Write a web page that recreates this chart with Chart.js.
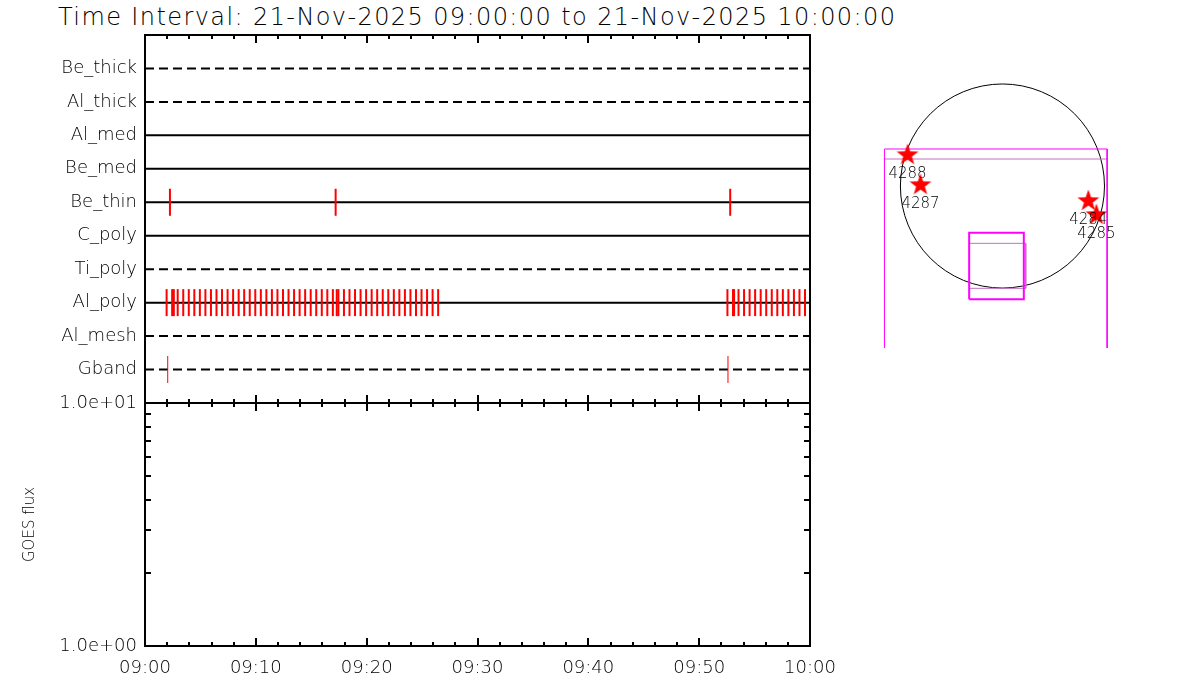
<!DOCTYPE html>
<html lang="en">
<head>
<meta charset="UTF-8">
<title>Time Interval: 21-Nov-2025 09:00:00 to 21-Nov-2025 10:00:00</title>
<style>
body {margin:0; background:#fff; width:1200px; height:700px; position:relative; overflow:hidden; font-family:'DejaVu Sans', sans-serif; color:#000;}
#title {position:absolute; left:58px; top:3px; font-size:24px; font-weight:200; letter-spacing:1.4px; white-space:nowrap;}
canvas {position:absolute;}
#cTop {left:0; top:0;}
#cBottom {left:0; top:380px;}
#cDisk {left:860px; top:60px;}
</style>
</head>
<body>
<div id="title">Time Interval: 21-Nov-2025 09:00:00 to 21-Nov-2025 10:00:00</div>
<canvas id="cTop" width="840" height="420"></canvas>
<canvas id="cBottom" width="840" height="320"></canvas>
<canvas id="cDisk" width="270" height="310"></canvas>
<script src="https://cdn.jsdelivr.net/npm/chart.js"></script>
<script>
// time axis, minutes after 09:00
const T0 = 0, T1 = 60;
const timeLabelMins = [0, 10, 20, 30, 40, 50, 60];
const timeLabels = ['09:00', '09:10', '09:20', '09:30', '09:40', '09:50', '10:00'];

// filter channels, bottom row first
const channels = ['Gband', 'Al_mesh', 'Al_poly', 'Ti_poly', 'C_poly', 'Be_thin', 'Be_med', 'Al_med', 'Al_thick', 'Be_thick'];
const channelDashed = [true, true, false, true, false, false, false, false, true, true];

// exposure times per channel (minutes after 09:00)
const beThinMins = [2.25, 17.2, 52.8];
const gbandMins = [2.05, 52.6];
const alPolyMins = [1.95, 2.45, 2.6, 2.95, 3.45, 3.95, 4.45, 4.95, 5.45, 5.95, 6.45, 6.95, 7.45, 7.95,
  8.45, 8.95, 9.45, 9.95, 10.45, 10.95, 11.45, 11.95, 12.45, 12.95, 13.45, 13.95, 14.45, 14.95,
  15.45, 15.95, 16.45, 16.95, 17.3, 17.45, 17.95, 18.45, 18.95, 19.45, 19.95, 20.45, 20.95, 21.45,
  21.95, 22.45, 22.95, 23.45, 23.95, 24.45, 24.95, 25.45, 25.95, 26.45,
  52.55, 53.05, 53.15, 53.55, 54.05, 54.55, 55.05, 55.55, 56.05, 56.55, 57.05, 57.55, 58.05, 58.55, 59.05, 59.55];

// GOES panel (empty)
const fluxMin = 1, fluxMax = 10;
const fluxLabelVals = [1, 10];
const fluxLabels = ['1.0e+00', '1.0e+01'];
const fluxMinorVals = [2, 3, 4, 5, 6, 7, 8, 9];

// solar disk panel, arcsec
const diskRadius = 960;
const arNums = ['4288', '4287', '4284', '4285'];
const arX = [-893, -771, 808, 884];
const arY = [291, 9, -141, -273];
const fovX = [-1110, -1110, 985, 985];
const fovY = [-1523, 348, 348, -1523];
const fovInnerX = [-1110, 985];
const fovInnerY = [254, 254];
const boxAX = [-313, -313, 201, 201, -313];
const boxAY = [-1065, -439, -439, -1065, -1065];
const boxBX = [-310, -310, 219, 219, -310];
const boxBY = [-962, -539, -539, -962, -962];

Chart.defaults.font.family = "'DejaVu Sans', sans-serif";
Chart.defaults.font.weight = '200';
Chart.defaults.color = '#000';

// box around the plot with inward IDL-style ticks
function frameTicks(yMinor) {
  return {
    id: 'frameTicks',
    afterDraw(chart) {
      const {ctx, chartArea: a, scales} = chart;
      ctx.save();
      ctx.strokeStyle = '#000';
      ctx.lineWidth = 2;
      ctx.strokeRect(a.left, a.top, a.right - a.left, a.bottom - a.top);
      ctx.beginPath();
      for (let m = T0; m <= T1; m += 2) {
        const px = Math.round(scales.x.getPixelForValue(m));
        const len = m % 10 === 0 ? 8 : 4;
        ctx.moveTo(px, a.top); ctx.lineTo(px, a.top + len);
        ctx.moveTo(px, a.bottom); ctx.lineTo(px, a.bottom - len);
      }
      if (yMinor) {
        yMinor.forEach(v => {
          const py = Math.round(scales.y.getPixelForValue(v));
          ctx.moveTo(a.left, py); ctx.lineTo(a.left + 6, py);
          ctx.moveTo(a.right, py); ctx.lineTo(a.right - 6, py);
        });
      }
      ctx.stroke();
      ctx.restore();
    }
  };
}

function noPad(s) {
  s.paddingLeft = 0; s.paddingRight = 0; s.paddingTop = 0; s.paddingBottom = 0;
}

function tickSet(name, mins, width) {
  const row = channels.indexOf(name) + 1;
  return {
    label: name,
    data: mins.map(m => ({x: m, y: row})),
    showLine: false,
    pointStyle: 'line',
    pointRotation: 90,
    pointRadius: 13.5,
    pointBorderColor: '#ff0000',
    pointBorderWidth: width,
    borderColor: '#ff0000',
    order: 0
  };
}

const rowSets = channels.map((c, i) => ({
  label: c,
  data: [{x: T0, y: i + 1}, {x: T1, y: i + 1}],
  showLine: true,
  borderColor: '#000',
  borderWidth: 2,
  borderDash: channelDashed[i] ? [9, 5] : [],
  pointRadius: 0,
  order: 1
}));

new Chart(document.getElementById('cTop'), {
  type: 'scatter',
  data: {datasets: [tickSet('Be_thin', beThinMins, 2), tickSet('Al_poly', alPolyMins, 2), tickSet('Gband', gbandMins, 1), ...rowSets]},
  options: {
    responsive: false, animation: false, events: [],
    layout: {autoPadding: false, padding: {left: 0, right: 30, top: 35, bottom: 17}},
    plugins: {legend: {display: false}, tooltip: {enabled: false}},
    scales: {
      x: {type: 'linear', min: T0, max: T1, display: false},
      y: {
        type: 'linear', min: 0, max: channels.length + 1,
        afterFit(s) { s.width = 145; noPad(s); },
        afterBuildTicks(s) { s.ticks = channels.map((c, i) => ({value: i + 1})); },
        ticks: {autoSkip: false, padding: 8, font: {size: 18}, callback: v => channels[v - 1]},
        grid: {display: false, drawTicks: false},
        border: {display: false}
      }
    }
  },
  plugins: [frameTicks(null)]
});

new Chart(document.getElementById('cBottom'), {
  type: 'scatter',
  data: {datasets: [{label: 'GOES', data: []}]},
  options: {
    responsive: false, animation: false, events: [],
    layout: {autoPadding: false, padding: {left: 0, right: 30, top: 23, bottom: 0}},
    plugins: {legend: {display: false}, tooltip: {enabled: false}},
    scales: {
      x: {
        type: 'linear', min: T0, max: T1,
        afterFit(s) { s.height = 54; noPad(s); },
        afterBuildTicks(s) { s.ticks = timeLabelMins.map(v => ({value: v})); },
        ticks: {autoSkip: false, maxRotation: 0, padding: 12, font: {size: 18}, callback: v => timeLabels[timeLabelMins.indexOf(v)]},
        grid: {display: false, drawTicks: false},
        border: {display: false}
      },
      y: {
        type: 'logarithmic', min: fluxMin, max: fluxMax,
        afterFit(s) { s.width = 145; noPad(s); },
        afterBuildTicks(s) { s.ticks = fluxLabelVals.map(v => ({value: v})); },
        ticks: {autoSkip: false, padding: 8, font: {size: 18}, callback: v => fluxLabels[fluxLabelVals.indexOf(v)]},
        grid: {display: false, drawTicks: false},
        border: {display: false},
        title: {display: true, text: 'GOES flux', font: {size: 15}, padding: {top: 21, bottom: 0}}
      }
    }
  },
  plugins: [frameTicks(fluxMinorVals)]
});

// filled red star marker
const starImg = document.createElement('canvas');
starImg.width = 24; starImg.height = 24;
const sc = starImg.getContext('2d');
sc.fillStyle = '#ff0000';
sc.beginPath();
for (let k = 0; k < 10; k++) {
  const r = k % 2 ? 4.6 : 11.5;
  const ang = -Math.PI / 2 + k * Math.PI / 5;
  sc.lineTo(12 + r * Math.cos(ang), 12 + r * Math.sin(ang));
}
sc.closePath();
sc.fill();

const diskPlugin = {
  id: 'disk',
  beforeDatasetsDraw(chart) {
    const {ctx, scales: {x, y}} = chart;
    const cx = x.getPixelForValue(0), cy = y.getPixelForValue(0);
    const r = x.getPixelForValue(diskRadius) - cx;
    ctx.save();
    ctx.strokeStyle = '#000';
    ctx.lineWidth = 1;
    ctx.beginPath();
    ctx.arc(cx, cy, r, 0, Math.PI * 2);
    ctx.stroke();
    ctx.restore();
  },
  afterDatasetsDraw(chart) {
    const {ctx, scales: {x, y}} = chart;
    ctx.save();
    ctx.fillStyle = '#000';
    ctx.font = "200 15px 'DejaVu Sans', sans-serif";
    ctx.textAlign = 'center';
    ctx.textBaseline = 'middle';
    arNums.forEach((n, i) => {
      ctx.fillText(n, x.getPixelForValue(arX[i]), y.getPixelForValue(arY[i]) + 19);
    });
    ctx.restore();
  }
};

function outline(label, xs, ys, color, width) {
  return {label, data: xs.map((v, i) => ({x: v, y: ys[i]})), showLine: true, borderColor: color, borderWidth: width, pointRadius: 0, order: 1};
}

new Chart(document.getElementById('cDisk'), {
  type: 'scatter',
  data: {datasets: [
    {label: 'AR', data: arX.map((v, i) => ({x: v, y: arY[i]})), pointStyle: starImg, order: 0},
    outline('fov', fovX, fovY, '#ff00ff', 1),
    outline('fov2', fovInnerX, fovInnerY, '#c070c0', 1),
    outline('boxA', boxAX, boxAY, '#ff00ff', 2),
    outline('boxB', boxBX, boxBY, '#c070c0', 1)
  ]},
  options: {
    responsive: false, animation: false, events: [],
    layout: {autoPadding: false, padding: 0},
    plugins: {legend: {display: false}, tooltip: {enabled: false}},
    scales: {
      x: {type: 'linear', min: -1340, max: 1200, display: false},
      y: {type: 'linear', min: -1730, max: 1185, display: false}
    }
  },
  plugins: [diskPlugin]
});
</script>
</body>
</html>
